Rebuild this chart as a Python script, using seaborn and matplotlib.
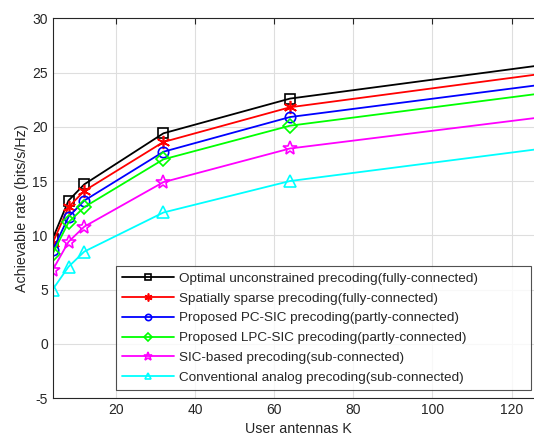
import matplotlib
matplotlib.use("Agg")
import matplotlib.pyplot as plt
import seaborn as sns
import pandas as pd

# Number of user antennas K
antennas = [4, 8, 12, 32, 64, 128]

# Achievable rate (bits/s/Hz) for each precoding scheme
optimal_full = [9.7, 13.2, 14.7, 19.4, 22.6, 25.7]
sparse_full = [9.3, 12.6, 14.1, 18.6, 21.8, 24.9]
pc_sic_partly = [8.6, 11.7, 13.2, 17.7, 20.9, 23.9]
lpc_sic_partly = [8.3, 11.2, 12.6, 17.0, 20.1, 23.1]
sic_sub = [6.8, 9.4, 10.8, 14.9, 18.0, 20.9]
analog_sub = [5.0, 7.1, 8.5, 12.1, 15.0, 18.0]

labels = [
    "Optimal unconstrained precoding(fully-connected)",
    "Spatially sparse precoding(fully-connected)",
    "Proposed PC-SIC precoding(partly-connected)",
    "Proposed LPC-SIC precoding(partly-connected)",
    "SIC-based precoding(sub-connected)",
    "Conventional analog precoding(sub-connected)",
]
series = [optimal_full, sparse_full, pc_sic_partly, lpc_sic_partly, sic_sub, analog_sub]
colors = ["#000000", "#ff0000", "#0000ff", "#00ff00", "#ff00ff", "#00ffff"]
markers = ["s", (6, 2, 0), "o", "D", "*", "^"]
sizes = [7, 9.5, 7.5, 7, 10.5, 8]

sns.set_style("white")
plt.rcParams["font.family"] = ["Liberation Sans", "DejaVu Sans"]
plt.rcParams["axes.unicode_minus"] = False

W, H = 534, 440
fig = plt.figure(figsize=(W / 100, H / 100), dpi=100)
# the plot area runs past the right edge of the figure
ax = fig.add_axes([52.7 / W, 1 - 398 / H, 490.5 / W, 379.7 / H])

for vals, lab, col, mk, ms in zip(series, labels, colors, markers, sizes):
    df = pd.DataFrame({"K": antennas, "rate": vals})
    sns.lineplot(data=df, x="K", y="rate", ax=ax, color=col, marker=mk,
                 markersize=ms, markerfacecolor="none", markeredgecolor=col,
                 markeredgewidth=1.2, linewidth=1.3, label=lab)

ax.set_xlim(4, 128)
ax.set_ylim(-5, 30)
ax.set_xticks([20, 40, 60, 80, 100, 120])
ax.set_yticks(range(-5, 31, 5))
ax.grid(True, color="#dedede", linewidth=0.8)
ax.tick_params(direction="in", length=4, width=0.8, labelsize=10,
               top=True, right=True, colors="#262626")
for side in ["left", "bottom", "top", "right"]:
    ax.spines[side].set_color("#262626")
    ax.spines[side].set_linewidth(0.8)

ax.set_xlabel("User antennas K", fontsize=10.3, color="#262626", labelpad=4)
ax.set_ylabel("Achievable rate (bits/s/Hz)", fontsize=10.3, color="#262626", labelpad=2)

leg = ax.legend(loc="lower left", mode="expand",
                bbox_to_anchor=(116 / W, 1 - 390 / H, 415 / W, 132 / H),
                bbox_transform=fig.transFigure, fontsize=9.7,
                frameon=True, fancybox=False, edgecolor="#262626",
                markerscale=0.6, handlelength=3.85, borderpad=0.45,
                labelspacing=0.55, handletextpad=0.4, borderaxespad=0)
leg.get_frame().set_linewidth(0.8)

fig.savefig("out.png", dpi=100)
